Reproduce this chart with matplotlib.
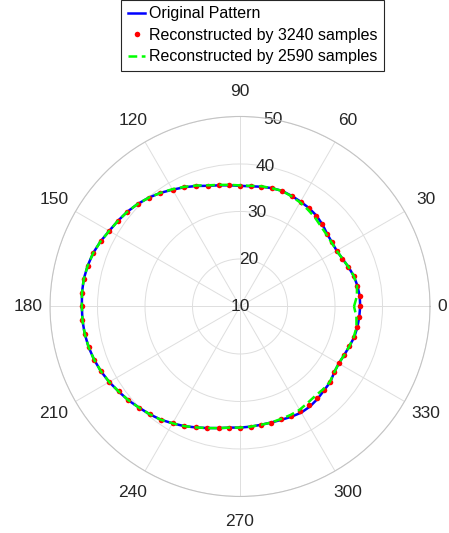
import numpy as np
import matplotlib
matplotlib.use("Agg")
import matplotlib.pyplot as plt

plt.rcParams['font.family'] = ['Liberation Sans', 'DejaVu Sans']

# angles (deg) of the sampled pattern, 5 degree step
angles_deg = list(range(0, 360, 5))

# original pattern (radius values)
original = [35.3, 35.3, 35.1, 34.8, 34.3, 33.8, 33.5, 33.6, 33.9, 34.5,
            35.0, 35.3, 35.5, 35.7, 35.9, 35.8, 35.6, 35.4, 35.4, 35.6,
            35.9, 36.3, 37.0, 37.7, 38.4, 39.2, 39.9, 40.5, 41.0, 41.4,
            41.8, 42.4, 42.9, 43.2, 43.4, 43.4, 43.3, 43.3, 43.2, 43.0,
            42.7, 42.3, 41.8, 41.2, 40.7, 40.1, 39.6, 39.1, 38.4, 37.8,
            37.1, 36.5, 36.0, 35.6, 35.5, 35.4, 35.3, 35.3, 35.4, 35.6,
            35.8, 35.7, 35.4, 35.0, 34.8, 34.2, 34.0, 34.2, 34.5, 34.9,
            35.1, 35.2]

# reconstructed by 3240 samples (red dots)
recon_3240 = [35.3, 35.3, 35.1, 34.8, 34.3, 33.8, 33.5, 33.6, 33.9, 34.5,
              35.0, 35.3, 35.5, 35.7, 35.9, 35.8, 35.6, 35.4, 35.4, 35.6,
              35.9, 36.3, 37.0, 37.7, 38.4, 39.2, 39.9, 40.5, 41.0, 41.4,
              41.8, 42.4, 42.9, 43.2, 43.4, 43.4, 43.3, 43.3, 43.2, 43.0,
              42.7, 42.3, 41.8, 41.2, 40.7, 40.1, 39.6, 39.1, 38.4, 37.8,
              37.1, 36.5, 36.0, 35.6, 35.5, 35.4, 35.3, 35.3, 35.3, 35.4,
              35.4, 35.3, 35.1, 34.9, 34.8, 34.2, 34.0, 34.2, 34.5, 34.9,
              35.1, 35.2]

# reconstructed by 2590 samples (green dashes)
recon_2590 = [34.0, 34.7, 35.0, 34.8, 34.3, 33.8, 33.5, 33.5, 33.7, 34.0,
              34.5, 34.9, 35.3, 35.6, 35.9, 35.8, 35.7, 35.5, 35.5, 35.7,
              36.0, 36.4, 37.1, 37.8, 38.5, 39.2, 39.9, 40.5, 41.0, 41.4,
              41.8, 42.4, 42.9, 43.2, 43.4, 43.4, 43.3, 43.3, 43.2, 43.0,
              42.7, 42.3, 41.8, 41.2, 40.7, 40.1, 39.6, 39.1, 38.4, 37.8,
              37.1, 36.5, 36.0, 35.6, 35.5, 35.4, 35.3, 35.3, 35.2, 35.2,
              35.1, 34.8, 34.6, 34.7, 34.7, 34.2, 34.0, 34.2, 34.5, 34.8,
              34.9, 34.6]

theta_ticks = [0, 30, 60, 90, 120, 150, 180, 210, 240, 270, 300, 330]
r_ticks = [10, 20, 30, 40, 50]
r_label_angle = 80

fig = plt.figure(figsize=(4.49, 5.33), dpi=100)
ax = fig.add_axes([0.1114, 0.0685, 0.8463, 0.713], projection='polar')

th = np.deg2rad(angles_deg + [360])
close = lambda v: v + v[:1]

ax.plot(th, close(original), color='#0000ff', lw=1.8, label='Original Pattern', zorder=3)
ax.plot(th[:-1], recon_3240, 'o', color='#ff0000', ms=4.0, mec='none',
        label='Reconstructed by 3240 samples', zorder=4)
ax.plot(th, close(recon_2590), color='#00ff00', lw=1.8, dashes=(3.5, 1.8),
        label='Reconstructed by 2590 samples', zorder=5)

ax.set_rlim(10, 50)
ax.set_rticks(r_ticks)
ax.set_yticklabels([])
for r in r_ticks:
    ax.text(np.deg2rad(r_label_angle), r, str(r), ha='center', va='center',
            fontsize=12.5, color='#262626', zorder=2)

# angle labels drawn by hand so the 0 / 180 ones sit like MATLAB's
ax.set_thetagrids(theta_ticks, [''] * len(theta_ticks))
for t in theta_ticks:
    c = np.cos(np.deg2rad(t))
    if c > 0.99:
        ha, rr = 'left', 51.6
    elif c < -0.99:
        ha, rr = 'right', 51.6
    else:
        ha, rr = 'center', 55.2
    ax.text(np.deg2rad(t), rr, str(t), ha=ha, va='center', fontsize=12.5,
            color='#262626', clip_on=False)

ax.grid(color='#dedede', lw=0.7)
ax.spines['polar'].set_color('#c4c4c4')
ax.spines['polar'].set_linewidth(0.8)

leg = fig.legend(loc='upper center', bbox_to_anchor=(0.563, 1.0), fontsize=11.5,
                 frameon=True, fancybox=False, framealpha=1, edgecolor='#262626',
                 handlelength=1.1, handletextpad=0.25, borderpad=0.4,
                 labelspacing=0.4, borderaxespad=0)
leg.get_frame().set_linewidth(0.8)

fig.savefig('out.png', dpi=100)
